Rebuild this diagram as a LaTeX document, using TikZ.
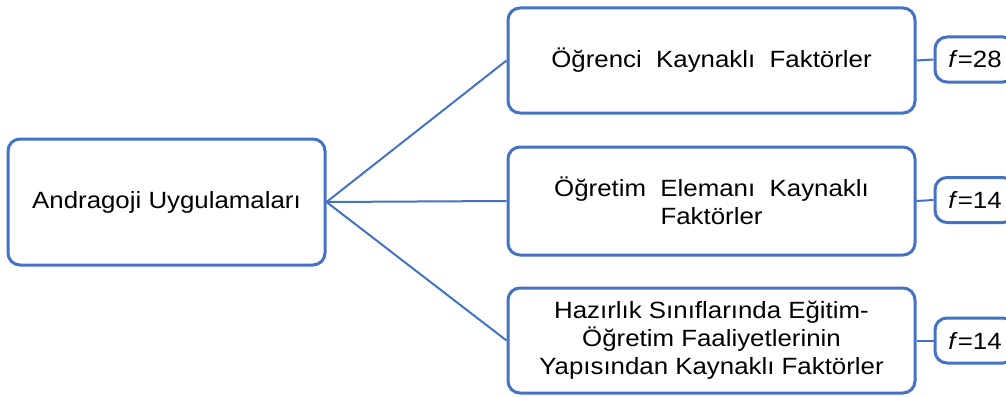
\documentclass[tikz,border=0pt]{standalone}
\usepackage{fontspec}
\setmainfont[FakeStretch=1.1]{Liberation Sans}
\begin{document}
\definecolor{frame}{HTML}{4472C4}
\begin{tikzpicture}[x=1pt,y=-1pt,
  box/.style={draw=frame, line width=3pt, rounded corners=12pt, fill=white,
    align=center, inner sep=0pt, font=\fontsize{23.5}{28}\selectfont},
  fbox/.style={box, minimum width=80pt, minimum height=45pt},
  link/.style={draw=frame, line width=2pt}]
\useasboundingbox (0,0) rectangle (1006,396);
\begin{scope}
\clip (0,0) rectangle (1006,396);
\node[box, minimum width=317pt, minimum height=126pt] (root) at (166.5,202) {Andragoji Uygulamaları};
\node[box, minimum width=407pt, minimum height=105pt] (b1) at (711.5,60.5) {Öğrenci\ \ Kaynaklı\ \ Faktörler};
\node[box, minimum width=407pt, minimum height=108pt] (b2) at (711.5,201) {Öğretim\ \ Elemanı\ \ Kaynaklı\\Faktörler};
\node[box, minimum width=407pt, minimum height=105pt] (b3) at (711.5,340.5) {Hazırlık Sınıflarında Eğitim-\\Öğretim Faaliyetlerinin\\Yapısından Kaynaklı Faktörler};
\node[fbox] (f1) at (975,59.5) {\textit{f}=28};
\node[fbox] (f2) at (975,200) {\textit{f}=14};
\node[fbox] (f3) at (975,340.5) {\textit{f}=14};
\draw[link] (root.east) -- (b1.west);
\draw[link] (root.east) -- (b2.west);
\draw[link] (root.east) -- (b3.west);
\draw[link] (b1.east) -- (f1.west);
\draw[link] (b2.east) -- (f2.west);
\draw[link] (b3.east) -- (f3.west);
\end{scope}
\end{tikzpicture}
\end{document}
